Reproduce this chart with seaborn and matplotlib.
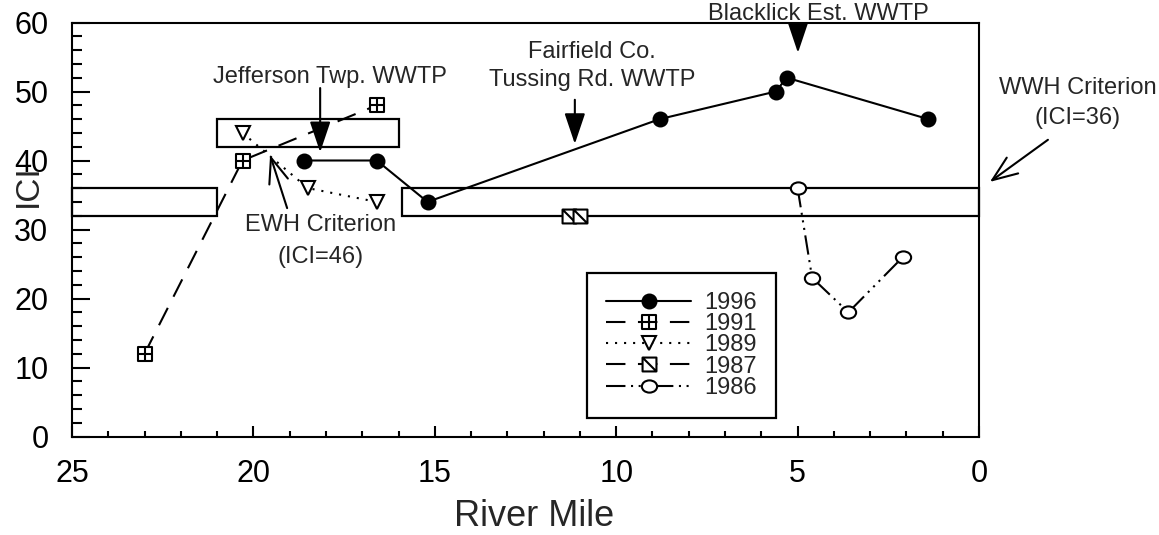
import matplotlib
matplotlib.use("Agg")
import matplotlib.pyplot as plt
import pandas as pd
import seaborn as sns
from matplotlib.path import Path
from matplotlib.patches import Rectangle
from matplotlib.transforms import Affine2D
from matplotlib.ticker import MultipleLocator

# ICI results by river mile and sampling year
rm_1996 = [18.6, 16.6, 15.2, 8.8, 5.6, 5.3, 1.4]
ici_1996 = [40, 40, 34, 46, 50, 52, 46]
rm_1991 = [23.0, 20.3, 16.6]
ici_1991 = [12, 40, 48]
rm_1989 = [20.3, 18.5, 16.6]
ici_1989 = [44, 36, 34]
rm_1987 = [11.3, 11.0]
ici_1987 = [32, 32]
rm_1986 = [5.0, 4.6, 3.6, 2.1]
ici_1986 = [36, 23, 18, 26]

# Criterion bands: river-mile spans and ICI range (criterion and non-significant departure)
wwh_spans = [(25.0, 21.0), (15.9, 0.0)]
wwh_range = (32, 36)
ewh_spans = [(21.0, 16.0)]
ewh_range = (42, 46)

x_ticks = [25, 20, 15, 10, 5, 0]
y_ticks = [0, 10, 20, 30, 40, 50, 60]

sns.set_style("ticks")
plt.rcParams["font.family"] = ["Liberation Sans", "DejaVu Sans"]
plt.rcParams["lines.scale_dashes"] = False

# custom open markers
M, L, C = Path.MOVETO, Path.LINETO, Path.CLOSEPOLY
square_plus = Path(
    [(-1, -1), (1, -1), (1, 1), (-1, 1), (-1, -1), (0, -1), (0, 1), (-1, 0), (1, 0)],
    [M, L, L, L, C, M, L, M, L],
)
square_diag = Path(
    [(-1, -1), (1, -1), (1, 1), (-1, 1), (-1, -1), (-1, 1), (1, -1)],
    [M, L, L, L, C, M, L],
)
ellipse = Affine2D().scale(1.0, 0.8).transform_path(Path.unit_circle())

fig = plt.figure(figsize=(11.59, 5.35), dpi=100)
ax = fig.add_axes([72 / 1159, 1 - 436.5 / 535, 907 / 1159, 414 / 535])

# criterion bands
for x0, x1 in wwh_spans:
    ax.add_patch(Rectangle((x1, wwh_range[0]), x0 - x1, wwh_range[1] - wwh_range[0],
                           fill=False, ec="black", lw=1.6, zorder=2, clip_on=False))
for x0, x1 in ewh_spans:
    ax.add_patch(Rectangle((x1, ewh_range[0]), x0 - x1, ewh_range[1] - ewh_range[0],
                           fill=False, ec="black", lw=1.6, zorder=2, clip_on=False))

long_dash = (0, (14, 9))
series = [
    ("1996", rm_1996, ici_1996, dict(marker="o", markersize=10, markerfacecolor="black", linestyle="-")),
    ("1991", rm_1991, ici_1991, dict(marker=square_plus, markersize=10, markerfacecolor="white", linestyle=long_dash)),
    ("1989", rm_1989, ici_1989, dict(marker="v", markersize=10, markerfacecolor="white", linestyle=(0, (1.5, 5)))),
    ("1987", rm_1987, ici_1987, dict(marker=square_diag, markersize=10, markerfacecolor="white", linestyle=long_dash)),
    ("1986", rm_1986, ici_1986, dict(marker=ellipse, markersize=11, markerfacecolor="white",
                                      linestyle=(0, (14, 4, 1.5, 4, 1.5, 4, 1.5, 4)))),
]
for label, x, y, style in series:
    df = pd.DataFrame({"River Mile": x, "ICI": y})
    sns.lineplot(data=df, x="River Mile", y="ICI", ax=ax, color="black", label=label,
                 sort=False, linewidth=1.5, markeredgecolor="black", markeredgewidth=1.5,
                 zorder=3, **style)

ax.set_xlim(25, 0)
ax.set_ylim(0, 60)
ax.set_xticks(x_ticks)
ax.set_yticks(y_ticks)
ax.xaxis.set_minor_locator(MultipleLocator(1))
ax.yaxis.set_minor_locator(MultipleLocator(2))
ax.tick_params(axis="both", which="both", direction="in", width=1.5, top=False, right=False,
               labelsize=22, colors="black")
ax.tick_params(axis="y", which="major", length=13, pad=17)
ax.tick_params(axis="y", which="minor", length=7)
ax.tick_params(axis="x", which="major", length=8, pad=16)
ax.tick_params(axis="x", which="minor", length=4.5)
for sp in ax.spines.values():
    sp.set_visible(True)
    sp.set_linewidth(1.5)
    sp.set_color("black")

ax.set_xlabel("River Mile", fontsize=26)
ax.set_ylabel("ICI", fontsize=24)
ax.xaxis.set_label_coords(0.509, -0.15)
ax.yaxis.set_label_coords(-0.031, 0.605)

# annotations
solid_head = dict(arrowstyle="-|>,head_length=0.95,head_width=0.32", mutation_scale=20,
                  lw=1.5, color="black", shrinkA=0, shrinkB=0)
open_head = dict(arrowstyle="->,head_length=0.9,head_width=0.35", mutation_scale=20,
                 lw=1.5, color="black", shrinkA=0, shrinkB=0)
fs = 17

ax.annotate("", xy=(18.16, 41.2), xytext=(18.16, 50.5), arrowprops=solid_head, annotation_clip=False)
ax.text(17.89, 52.1, "Jefferson Twp. WWTP", ha="center", va="center", fontsize=fs)

ax.annotate("", xy=(11.14, 42.4), xytext=(11.14, 48.8), arrowprops=solid_head, annotation_clip=False)
ax.text(10.67, 55.7, "Fairfield Co.", ha="center", va="center", fontsize=fs)
ax.text(10.67, 51.7, "Tussing Rd. WWTP", ha="center", va="center", fontsize=fs)

ax.annotate("", xy=(4.99, 55.6), xytext=(4.99, 59.4), arrowprops=solid_head, annotation_clip=False)
ax.text(4.44, 61.3, "Blacklick Est. WWTP", ha="center", va="center", fontsize=fs)

ax.annotate("", xy=(-0.3, 36.9), xytext=(-1.9, 43.0), arrowprops=open_head, annotation_clip=False)
ax.text(-2.73, 50.5, "WWH Criterion", ha="center", va="center", fontsize=fs)
ax.text(-2.73, 46.2, "(ICI=36)", ha="center", va="center", fontsize=fs)

ax.annotate("", xy=(19.54, 40.8), xytext=(19.07, 33.1), arrowprops=open_head, annotation_clip=False)
ax.text(18.16, 30.6, "EWH Criterion", ha="center", va="center", fontsize=fs)
ax.text(18.16, 26.0, "(ICI=46)", ha="center", va="center", fontsize=fs)

leg = ax.legend(loc="upper left", bbox_to_anchor=(0.568, 0.395), borderaxespad=0,
                frameon=True, fancybox=False, edgecolor="black", framealpha=1,
                fontsize=17, handlelength=3.6, handletextpad=0.55, labelspacing=-0.03,
                borderpad=0.8, numpoints=1)
leg.get_frame().set_linewidth(1.6)

fig.savefig("out.png", dpi=100)
